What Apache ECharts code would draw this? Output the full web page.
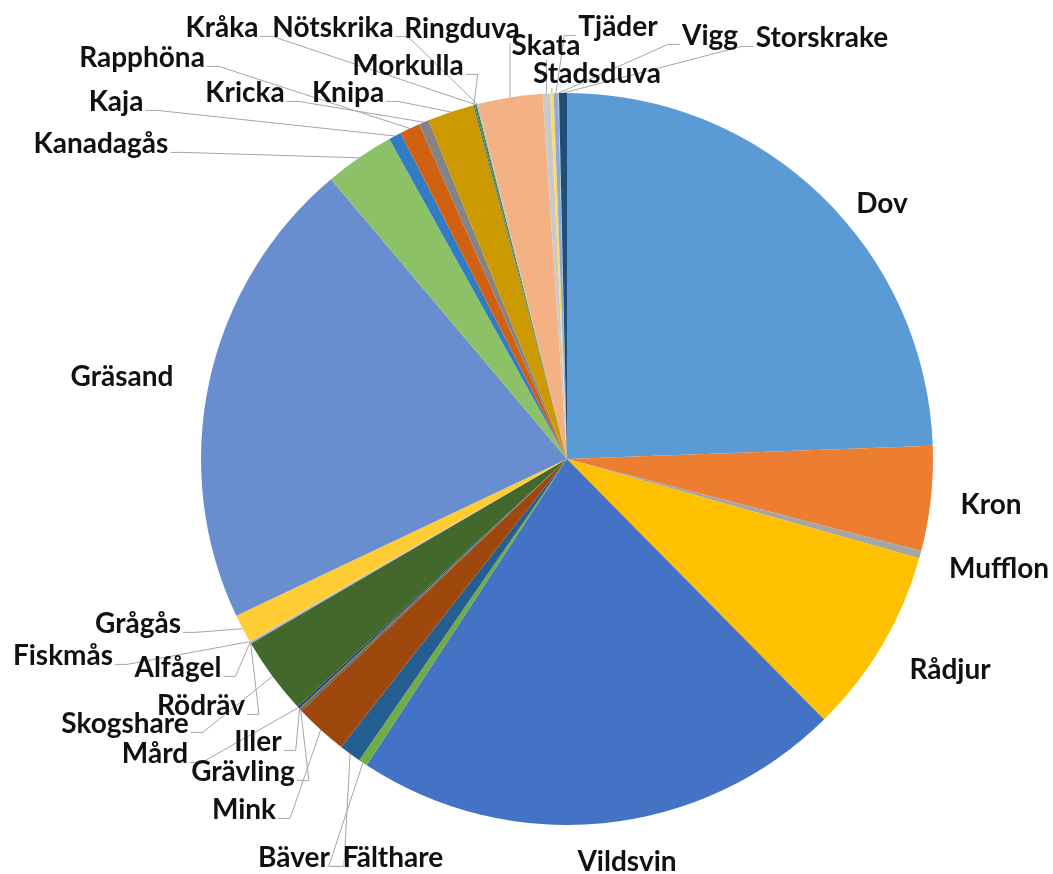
<!DOCTYPE html>
<html>
<head>
<meta charset="utf-8">
<script src="https://cdn.jsdelivr.net/npm/echarts@6/dist/echarts.min.js"></script>
<style>
html,body{margin:0;padding:0;background:#ffffff;}
#chart{width:1053px;height:874px;}
</style>
</head>
<body>
<div id="chart"></div>
<script>
// Categories in clockwise order from 12 o'clock
const categories = ['Dov','Kron','Mufflon','Rådjur','Vildsvin','Fälthare','Bäver','Mink','Grävling','Iller','Mård','Skogshare','Rödräv','Alfågel','Fiskmås','Grågås','Gräsand','Kanadagås','Kaja','Rapphöna','Kricka','Knipa','Morkulla','Kråka','Nötskrika','Ringduva','Skata','Stadsduva','Tjäder','Vigg','Storskrake'];
// Shares (percent)
const values = [24.39, 4.61, 0.33, 8.22, 21.58, 0.39, 0.97, 2.33, 0.1, 0.05, 0.1, 3.42, 0.05, 0.03, 0.03, 1.25, 20.86, 3.08, 0.56, 0.89, 0.44, 2.06, 0.05, 0.1, 0.05, 2.85, 0.33, 0.15, 0.2, 0.03, 0.35];

// Style: Office palette
const colors = ['#5B9BD5','#ED7D31','#A5A5A5','#FFC000','#4472C4','#70AD47',
  '#255E91','#9E480E','#636363','#997300','#264478','#43682B',
  '#7CAFDD','#F1975A','#B7B7B7','#FFCD33','#698ED0','#8CC168',
  '#327DC2','#D26012','#848484','#CC9A00','#3A5FA0','#5A8A39',
  '#9DC3E6','#F4B183','#C9C9C9','#FFD966','#8FAADC','#A9D18E','#1F4E79'];
const noLine = ['Dov','Kron','Mufflon','Rådjur','Vildsvin','Gräsand'];

// Layout: label centres (px)
const labelPos = {
  'Dov':[882,204], 'Kron':[991,505], 'Mufflon':[999,569], 'Rådjur':[950,670],
  'Vildsvin':[627,862], 'Fälthare':[393,858], 'Bäver':[294,858], 'Mink':[244,810],
  'Grävling':[243,772], 'Iller':[258,742], 'Mård':[155,754], 'Skogshare':[125,724],
  'Rödräv':[201,706], 'Alfågel':[178,668], 'Fiskmås':[63,656], 'Grågås':[138,624],
  'Gräsand':[122,377], 'Kanadagås':[101,144], 'Kaja':[116,102], 'Rapphöna':[142,58],
  'Kricka':[245,93], 'Knipa':[348,93], 'Morkulla':[408,66], 'Kråka':[222,28],
  'Nötskrika':[333,28], 'Ringduva':[462,29], 'Skata':[546,46], 'Stadsduva':[597,74],
  'Tjäder':[618,27], 'Vigg':[710,36], 'Storskrake':[822,38]
};

const seriesData = categories.map((name, i) => {
  const item = { name: name, value: values[i], itemStyle: { color: colors[i % colors.length] } };
  if (noLine.indexOf(name) >= 0) item.labelLine = { show: false };
  return item;
});

const chart = echarts.init(document.getElementById('chart'), null, { renderer: 'canvas' });
chart.setOption({
  backgroundColor: '#ffffff',
  animation: false,
  series: [{
    type: 'pie',
    center: [567, 459],
    radius: [0, 366],
    startAngle: 90,
    clockwise: true,
    avoidLabelOverlap: false,
    minShowLabelAngle: 0,
    emphasis: { disabled: true },
    data: seriesData,
    label: {
      show: true,
      position: 'outside',
      formatter: '{b}',
      fontFamily: 'Lato',
      fontWeight: 'bold',
      fontSize: 28,
      color: '#111111'
    },
    labelLine: {
      show: true,
      length: 10,
      length2: 10,
      lineStyle: { color: '#a6a6a6', width: 1 }
    },
    labelLayout: function (p) {
      const name = categories[p.dataIndex];
      const pos = labelPos[name];
      if (!pos) return {};
      const w = p.labelRect.width, h = p.labelRect.height;
      const res = { x: pos[0], y: pos[1], align: 'center', verticalAlign: 'middle' };
      if (noLine.indexOf(name) < 0 && p.labelLinePoints) {
        const a = p.labelLinePoints[0];
        const by = pos[1] + h * 0.3;
        let pts;
        if (Math.abs(a[0] - pos[0]) < w / 2 && a[1] > pos[1]) {
          const bx = a[0];
          pts = [a, [bx, pos[1] + h / 2], [bx, pos[1] + h / 2]];
        } else if (a[0] > pos[0]) {
          const ex = pos[0] + w / 2 + 2;
          pts = [a, [ex + 12, by], [ex, by]];
        } else {
          const ex = pos[0] - w / 2 - 2;
          pts = [a, [ex - 12, by], [ex, by]];
        }
        res.labelLinePoints = pts;
      }
      return res;
    }
  }]
});
</script>
</body>
</html>
